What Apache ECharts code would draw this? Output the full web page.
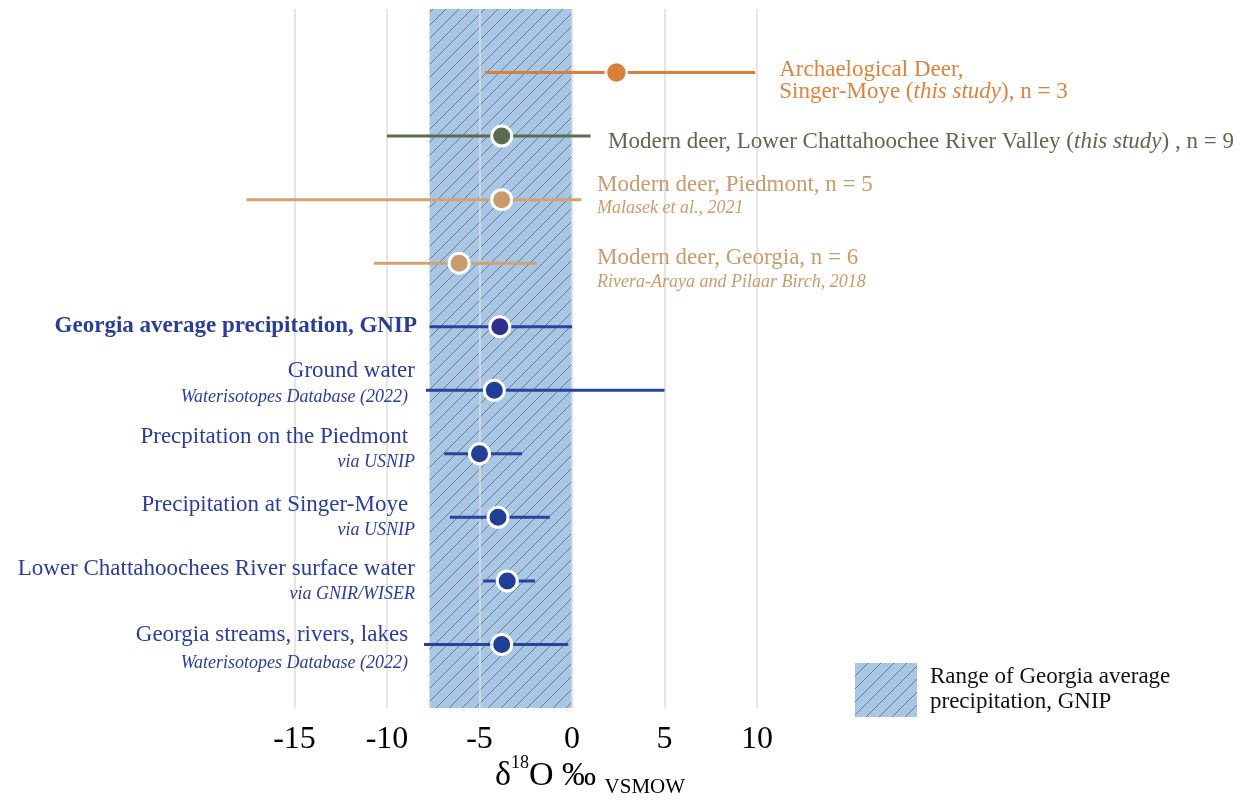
<!DOCTYPE html>
<html><head><meta charset="utf-8">
<script src="https://cdn.jsdelivr.net/npm/echarts@6/dist/echarts.min.js"></script>
<style>html,body{margin:0;padding:0;background:#fff}#c{width:1252px;height:801px}</style>
</head><body><div id="c"></div>
<script>
// ---------- data ----------
const categories = [
  'Archaeological Deer, Singer-Moye',
  'Modern deer, Lower Chattahoochee River Valley',
  'Modern deer, Piedmont',
  'Modern deer, Georgia',
  'Georgia average precipitation, GNIP',
  'Ground water',
  'Precipitation on the Piedmont',
  'Precipitation at Singer-Moye',
  'Lower Chattahoochee River surface water',
  'Georgia streams, rivers, lakes'
];
const means = [2.4, -3.8, -3.8, -6.1, -3.9, -4.2, -5.0, -4.0, -3.5, -3.8];
const lows  = [-4.7, -10.0, -17.6, -10.7, -7.7, -7.9, -6.9, -6.6, -4.8, -8.0];
const highs = [9.9, 1.0, 0.5, -1.9, 0.0, 5.0, -2.7, -1.2, -2.0, -0.2];
const gnipRange = [-7.7, 0.0];
const xTicks = [-15, -10, -5, 0, 5, 10];
const mainLabels = [
  'Archaelogical Deer,\nSinger-Moye ({i|this study}), n = 3',
  'Modern deer, Lower Chattahoochee River Valley ({i|this study}) , n = 9',
  'Modern deer, Piedmont, n = 5',
  'Modern deer, Georgia, n = 6',
  'Georgia average precipitation, GNIP',
  'Ground water',
  'Precpitation on the Piedmont',
  'Precipitation at Singer-Moye',
  'Lower Chattahoochees River surface water',
  'Georgia streams, rivers, lakes'
];
const subLabels = [
  '', '', 'Malasek et al., 2021', 'Rivera-Araya and Pilaar Birch, 2018', '',
  'Waterisotopes Database (2022)', 'via USNIP', 'via USNIP', 'via GNIR/WISER',
  'Waterisotopes Database (2022)'
];
const legendText = 'Range of Georgia average\nprecipitation, GNIP';

// ---------- styles / layout ----------
const SERIF = '"Liberation Serif", "Times New Roman", serif';
const barColors   = ['#DA7F3B', '#5A6B50', '#D1A273', '#D1A273', '#27439B', '#27439B', '#27439B', '#27439B', '#27439B', '#27439B'];
const pointColors = ['#DA7F3B', '#5A6B50', '#C99A6B', '#C99A6B', '#2E3090', '#223F97', '#223F97', '#223F97', '#223F97', '#223F97'];
const textColors  = ['#DB8343', '#5A6A4E', '#C79B6E', '#C79B6E', '#2B3E96', '#2B3E96', '#2B3E96', '#2B3E96', '#2B3E96', '#2B3E96'];
// label anchors on the x scale, pixel offsets from the row
const labelLayout = [
  {x: 11.2, align: 'left', dy: 8},
  {x: 1.95, align: 'left', dy: 6},
  {x: 1.35, align: 'left', dy: -15, sx: 1.35, sdy: 9},
  {x: 1.35, align: 'left', dy: -5, sx: 1.35, sdy: 19},
  {x: -8.38, align: 'right', dy: -1, bold: true},
  {x: -8.49, align: 'right', dy: -19, sx: -8.86, sdy: 7},
  {x: -8.86, align: 'right', dy: -17, sx: -8.49, sdy: 8},
  {x: -8.86, align: 'right', dy: -12, sx: -8.49, sdy: 13},
  {x: -8.49, align: 'right', dy: -12, sx: -8.49, sdy: 13},
  {x: -8.86, align: 'right', dy: -10, sx: -8.86, sdy: 19}
];

function makeHatch() {
  const s = 13;
  const c = document.createElement('canvas');
  c.width = s; c.height = s;
  const g = c.getContext('2d');
  g.fillStyle = '#A8C6E6';
  g.fillRect(0, 0, s, s);
  g.strokeStyle = '#717986';
  g.lineWidth = 1;
  g.beginPath();
  g.moveTo(0, s); g.lineTo(s, 0);
  g.moveTo(-2, 2); g.lineTo(2, -2);
  g.moveTo(s - 2, s + 2); g.lineTo(s + 2, s - 2);
  g.stroke();
  return c;
}
const hatch = {image: makeHatch(), repeat: 'repeat'};

const rows = categories.map((c, i) => i);

const option = {
  backgroundColor: '#ffffff',
  animation: false,
  grid: {left: 294.5, right: 495, top: 9, bottom: 93, containLabel: false},
  xAxis: {
    type: 'value', min: xTicks[0], max: xTicks[xTicks.length - 1], interval: 5,
    axisLine: {show: false}, axisTick: {show: false},
    axisLabel: {fontFamily: SERIF, fontSize: 32, color: '#000', margin: 16},
    splitLine: {show: true, lineStyle: {color: '#dcdcdc', width: 1.5}}
  },
  yAxis: {type: 'value', inverse: true, min: -1, max: rows.length, show: false},
  series: [
    {
      type: 'custom', name: 'range', z: -1, silent: true,
      data: [[gnipRange[0], gnipRange[1]]],
      encode: {x: [0, 1]},
      renderItem(params, api) {
        const a = api.coord([api.value(0), 0]);
        const b = api.coord([api.value(1), 0]);
        const cs = params.coordSys;
        return {type: 'rect', shape: {x: a[0], y: cs.y, width: b[0] - a[0], height: cs.height},
                style: {fill: hatch}};
      }
    },
    {
      type: 'custom', name: 'bars', z: 2, silent: true,
      data: rows.map(i => [lows[i], highs[i], i]),
      encode: {x: [0, 1], y: 2},
      renderItem(params, api) {
        const i = api.value(2);
        const a = api.coord([api.value(0), i]);
        const b = api.coord([api.value(1), i]);
        return {type: 'line', shape: {x1: a[0], y1: a[1], x2: b[0], y2: b[1]},
                style: {stroke: barColors[i], lineWidth: 3}};
      }
    },
    {
      type: 'scatter', name: 'means', z: 3, silent: true,
      data: rows.map(i => ({
        value: [means[i], i],
        symbolSize: i === 0 ? 21 : 20,
        itemStyle: {color: pointColors[i], opacity: 1, borderColor: '#fff', borderWidth: i === 0 ? 2.5 : 3}
      }))
    },
    {
      type: 'custom', name: 'labels', z: 4, silent: true,
      data: rows.map(i => [i]),
      encode: {y: 0},
      renderItem(params, api) {
        const i = params.dataIndex;
        const L = labelLayout[i];
        const col = textColors[i];
        const p = api.coord([L.x, i]);
        const children = [{
          type: 'text', x: p[0], y: p[1] + L.dy,
          style: {
            text: mainLabels[i], fill: col, fontFamily: SERIF, fontSize: 23,
            fontWeight: L.bold ? 'bold' : 'normal', lineHeight: 22,
            align: L.align, textAlign: L.align, verticalAlign: 'middle', textVerticalAlign: 'middle',
            rich: {i: {fontStyle: 'italic', fontFamily: SERIF, fontSize: 23, fill: col, lineHeight: 22}}
          }
        }];
        if (subLabels[i]) {
          const q = api.coord([L.sx, i]);
          children.push({
            type: 'text', x: q[0], y: q[1] + L.sdy,
            style: {
              text: subLabels[i], fill: col, fontFamily: SERIF, fontSize: 18, fontStyle: 'italic',
              align: L.align, textAlign: L.align, verticalAlign: 'middle', textVerticalAlign: 'middle'
            }
          });
        }
        return {type: 'group', children};
      }
    }
  ],
  graphic: [
    {type: 'rect', left: 855, top: 663, shape: {width: 62, height: 54}, style: {fill: hatch}},
    {type: 'text', left: 930, top: 664,
     style: {text: legendText, fill: '#111', fontFamily: SERIF, fontSize: 23, lineHeight: 25}},
    {type: 'text', x: 590, y: 776,
     style: {
       text: '{a|δ}{s|18}{a|O ‰ }{v|VSMOW}', align: 'center', textAlign: 'center',
       verticalAlign: 'middle', textVerticalAlign: 'middle', fill: '#000',
       rich: {
         a: {fontFamily: SERIF, fontSize: 34, lineHeight: 44, fill: '#000'},
         s: {fontFamily: SERIF, fontSize: 18, lineHeight: 28, verticalAlign: 'top', fill: '#000'},
         v: {fontFamily: SERIF, fontSize: 21, lineHeight: 17, verticalAlign: 'bottom', fill: '#000'}
       }
     }}
  ]
};

const chart = echarts.init(document.getElementById('c'));
chart.setOption(option);
</script>
</body></html>
